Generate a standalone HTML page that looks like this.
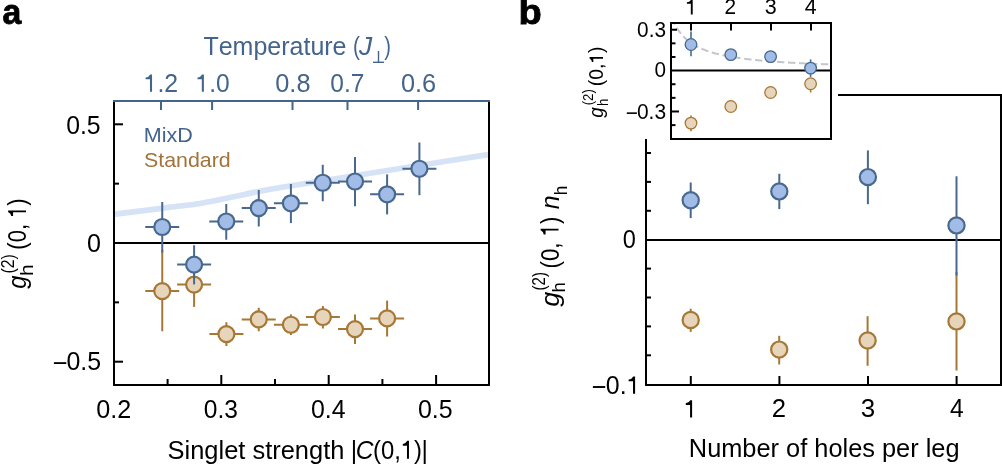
<!DOCTYPE html>
<html><head><meta charset="utf-8"><style>
html,body{margin:0;padding:0;background:#fff;}
body{width:1002px;height:464px;overflow:hidden;position:relative;font-family:"Liberation Sans", sans-serif;}
</style></head><body>
<svg width="1002" height="464" viewBox="0 0 1002 464" style="position:absolute;left:0;top:0;will-change:transform;font-kerning:none">
<g font-family='"Liberation Sans", sans-serif'>
<text x="2.51" y="24.1" font-size="34.5" fill="#000" textLength="18.77" lengthAdjust="spacingAndGlyphs" font-weight="bold" stroke="#000" stroke-width="0.8">a</text>
<path d="M113,214.35 C118.17,213.72 134.50,211.79 144,210.6 C153.50,209.41 160.67,208.38 170,207.2 C179.33,206.02 190.00,205.12 200,203.5 C210.00,201.88 220.00,199.55 230,197.5 C240.00,195.45 250.00,193.12 260,191.2 C270.00,189.28 261.67,190.57 290,186 C318.33,181.43 397.00,169.03 430,163.8 C463.00,158.57 478.33,156.13 488,154.6" fill="none" stroke="#d6e2f6" stroke-width="5.7"/>
<line x1="114.00" y1="243.00" x2="489.00" y2="243.00" stroke="#000" stroke-width="2" />
<line x1="114.00" y1="101.00" x2="114.00" y2="386.00" stroke="#000" stroke-width="2" />
<line x1="489.00" y1="101.00" x2="489.00" y2="386.00" stroke="#000" stroke-width="2" />
<line x1="113.00" y1="385.00" x2="490.00" y2="385.00" stroke="#000" stroke-width="2" />
<line x1="113.00" y1="101.00" x2="490.00" y2="101.00" stroke="#43648b" stroke-width="2" />
<line x1="114.00" y1="124.30" x2="123.00" y2="124.30" stroke="#000" stroke-width="2" />
<line x1="114.00" y1="183.65" x2="119.00" y2="183.65" stroke="#000" stroke-width="2" />
<line x1="114.00" y1="302.35" x2="119.00" y2="302.35" stroke="#000" stroke-width="2" />
<line x1="114.00" y1="361.70" x2="123.00" y2="361.70" stroke="#000" stroke-width="2" />
<line x1="167.60" y1="385.00" x2="167.60" y2="379.00" stroke="#000" stroke-width="2" />
<line x1="221.30" y1="385.00" x2="221.30" y2="375.00" stroke="#000" stroke-width="2" />
<line x1="275.00" y1="385.00" x2="275.00" y2="379.00" stroke="#000" stroke-width="2" />
<line x1="328.70" y1="385.00" x2="328.70" y2="375.00" stroke="#000" stroke-width="2" />
<line x1="382.40" y1="385.00" x2="382.40" y2="379.00" stroke="#000" stroke-width="2" />
<line x1="436.10" y1="385.00" x2="436.10" y2="375.00" stroke="#000" stroke-width="2" />
<line x1="161.00" y1="101.00" x2="161.00" y2="110.00" stroke="#43648b" stroke-width="2" />
<line x1="212.10" y1="101.00" x2="212.10" y2="110.00" stroke="#43648b" stroke-width="2" />
<line x1="292.50" y1="101.00" x2="292.50" y2="110.00" stroke="#43648b" stroke-width="2" />
<line x1="347.50" y1="101.00" x2="347.50" y2="110.00" stroke="#43648b" stroke-width="2" />
<line x1="418.10" y1="101.00" x2="418.10" y2="110.00" stroke="#43648b" stroke-width="2" />
<text x="66.13" y="133.5" font-size="25" fill="#000" textLength="34.51" lengthAdjust="spacingAndGlyphs" >0.5</text>
<text x="87.02" y="251.5" font-size="25" fill="#000" textLength="13.96" lengthAdjust="spacingAndGlyphs" >0</text>
<line x1="53.90" y1="363.10" x2="66.30" y2="363.10" stroke="#000" stroke-width="1.85" />
<text x="66.53" y="369.8" font-size="25" fill="#000" textLength="34.62" lengthAdjust="spacingAndGlyphs" >0.5</text>
<text x="96.22" y="417.5" font-size="25" fill="#000" textLength="35.05" lengthAdjust="spacingAndGlyphs" >0.2</text>
<text x="203.84" y="417.5" font-size="25" fill="#000" textLength="34.14" lengthAdjust="spacingAndGlyphs" >0.3</text>
<text x="310.93" y="417.5" font-size="25" fill="#000" textLength="34.60" lengthAdjust="spacingAndGlyphs" >0.4</text>
<text x="417.92" y="417.5" font-size="25" fill="#000" textLength="34.72" lengthAdjust="spacingAndGlyphs" >0.5</text>
<path d="M696,1409 L696,0 L525,0 L525,1018 L165,1018 L165,1162 Q420,1170 545,1409 Z" fill="#43648b" transform="translate(143.597,91.7) scale(0.012136,-0.012207)"/>
<text x="143.60" y="91.7" font-size="25" fill="#43648b" textLength="34.55" lengthAdjust="spacingAndGlyphs" > .2</text>
<path d="M696,1409 L696,0 L525,0 L525,1018 L165,1018 L165,1162 Q420,1170 545,1409 Z" fill="#43648b" transform="translate(195.518,91.7) scale(0.012010,-0.012207)"/>
<text x="195.52" y="91.7" font-size="25" fill="#43648b" textLength="34.19" lengthAdjust="spacingAndGlyphs" > .0</text>
<text x="275.26" y="91.7" font-size="25" fill="#43648b" textLength="35.24" lengthAdjust="spacingAndGlyphs" >0.8</text>
<text x="330.29" y="91.7" font-size="25" fill="#43648b" textLength="34.04" lengthAdjust="spacingAndGlyphs" >0.7</text>
<text x="400.91" y="91.7" font-size="25" fill="#43648b" textLength="35.20" lengthAdjust="spacingAndGlyphs" >0.6</text>
<text x="203.44" y="54.8" font-size="26" fill="#43648b" textLength="143.07" lengthAdjust="spacingAndGlyphs" >Temperature</text>
<text x="353.11" y="54.8" font-size="26" fill="#43648b" textLength="6.91" lengthAdjust="spacingAndGlyphs" >(</text>
<text x="358.96" y="54.8" font-size="26" fill="#43648b" textLength="13.23" lengthAdjust="spacingAndGlyphs" font-style="italic" >J</text>
<line x1="378.50" y1="51.00" x2="378.50" y2="62.30" stroke="#43648b" stroke-width="1.4" />
<line x1="373.00" y1="62.30" x2="384.00" y2="62.30" stroke="#43648b" stroke-width="1.4" />
<text x="384.18" y="54.8" font-size="26" fill="#43648b" textLength="6.66" lengthAdjust="spacingAndGlyphs" >)</text>
<text x="143.83" y="141.9" font-size="21" fill="#43648b" textLength="49.10" lengthAdjust="spacingAndGlyphs" >MixD</text>
<text x="144.03" y="166.7" font-size="21" fill="#a2733a" textLength="86.75" lengthAdjust="spacingAndGlyphs" >Standard</text>
<text x="167.54" y="458.7" font-size="26" fill="#000" textLength="176.86" lengthAdjust="spacingAndGlyphs" >Singlet strength</text>
<text x="350.80" y="458.7" font-size="26" fill="#000" textLength="6.41" lengthAdjust="spacingAndGlyphs" >|</text>
<text x="355.65" y="458.7" font-size="26" fill="#000" textLength="17.72" lengthAdjust="spacingAndGlyphs" font-style="italic" >C</text>
<path d="M696,1409 L696,0 L525,0 L525,1018 L165,1018 L165,1162 Q420,1170 545,1409 Z" fill="#000" transform="translate(400.864,458.7) scale(0.011650,-0.012695)"/>
<text x="373.02" y="458.7" font-size="26" fill="#000" textLength="49.06" lengthAdjust="spacingAndGlyphs" >(0, )</text>
<text x="421.60" y="458.7" font-size="26" fill="#000" textLength="6.41" lengthAdjust="spacingAndGlyphs" >|</text>
<g transform="translate(26,289) rotate(-90)">
<text x="0.35" y="0" font-size="26" fill="#000" textLength="13.26" lengthAdjust="spacingAndGlyphs" font-style="italic" >g</text>
<text x="15.42" y="-12.4" font-size="17.5" fill="#000" textLength="19.37" lengthAdjust="spacingAndGlyphs" >(2)</text>
<text x="13.14" y="6.6" font-size="17.5" fill="#000" textLength="11.73" lengthAdjust="spacingAndGlyphs" >h</text>
<path d="M696,1409 L696,0 L525,0 L525,1018 L165,1018 L165,1162 Q420,1170 545,1409 Z" fill="#000" transform="translate(71.110,0) scale(0.010738,-0.012695)"/>
<text x="39.34" y="0" font-size="26" fill="#000" textLength="51.33" lengthAdjust="spacingAndGlyphs" >(0,  )</text>
</g>
<line x1="162.25" y1="250.00" x2="162.25" y2="291.10" stroke="#a77735" stroke-width="2" />
<line x1="162.25" y1="291.10" x2="162.25" y2="331.25" stroke="#a77735" stroke-width="2" />
<line x1="145.25" y1="291.10" x2="179.25" y2="291.10" stroke="#a77735" stroke-width="2" />
<circle cx="162.25" cy="291.1" r="8.0" fill="#e7d5bb" stroke="#a77735" stroke-width="2.2"/>
<line x1="194.10" y1="266.00" x2="194.10" y2="284.60" stroke="#a77735" stroke-width="2" />
<line x1="194.10" y1="284.60" x2="194.10" y2="306.90" stroke="#a77735" stroke-width="2" />
<line x1="177.10" y1="284.60" x2="211.10" y2="284.60" stroke="#a77735" stroke-width="2" />
<circle cx="194.1" cy="284.6" r="8.0" fill="#e7d5bb" stroke="#a77735" stroke-width="2.2"/>
<line x1="226.40" y1="322.25" x2="226.40" y2="334.10" stroke="#a77735" stroke-width="2" />
<line x1="226.40" y1="334.10" x2="226.40" y2="346.00" stroke="#a77735" stroke-width="2" />
<line x1="209.40" y1="334.10" x2="243.40" y2="334.10" stroke="#a77735" stroke-width="2" />
<circle cx="226.4" cy="334.1" r="8.0" fill="#e7d5bb" stroke="#a77735" stroke-width="2.2"/>
<line x1="258.75" y1="307.75" x2="258.75" y2="319.40" stroke="#a77735" stroke-width="2" />
<line x1="258.75" y1="319.40" x2="258.75" y2="331.25" stroke="#a77735" stroke-width="2" />
<line x1="241.75" y1="319.40" x2="275.75" y2="319.40" stroke="#a77735" stroke-width="2" />
<circle cx="258.75" cy="319.4" r="8.0" fill="#e7d5bb" stroke="#a77735" stroke-width="2.2"/>
<line x1="290.90" y1="314.40" x2="290.90" y2="324.75" stroke="#a77735" stroke-width="2" />
<line x1="290.90" y1="324.75" x2="290.90" y2="335.00" stroke="#a77735" stroke-width="2" />
<line x1="273.90" y1="324.75" x2="307.90" y2="324.75" stroke="#a77735" stroke-width="2" />
<circle cx="290.9" cy="324.75" r="8.0" fill="#e7d5bb" stroke="#a77735" stroke-width="2.2"/>
<line x1="322.90" y1="306.00" x2="322.90" y2="317.00" stroke="#a77735" stroke-width="2" />
<line x1="322.90" y1="317.00" x2="322.90" y2="328.50" stroke="#a77735" stroke-width="2" />
<line x1="305.90" y1="317.00" x2="339.90" y2="317.00" stroke="#a77735" stroke-width="2" />
<circle cx="322.9" cy="317" r="8.0" fill="#e7d5bb" stroke="#a77735" stroke-width="2.2"/>
<line x1="355.00" y1="314.40" x2="355.00" y2="329.10" stroke="#a77735" stroke-width="2" />
<line x1="355.00" y1="329.10" x2="355.00" y2="344.00" stroke="#a77735" stroke-width="2" />
<line x1="338.00" y1="329.10" x2="372.00" y2="329.10" stroke="#a77735" stroke-width="2" />
<circle cx="355" cy="329.1" r="8.0" fill="#e7d5bb" stroke="#a77735" stroke-width="2.2"/>
<line x1="387.10" y1="300.60" x2="387.10" y2="318.40" stroke="#a77735" stroke-width="2" />
<line x1="387.10" y1="318.40" x2="387.10" y2="336.50" stroke="#a77735" stroke-width="2" />
<line x1="370.10" y1="318.40" x2="404.10" y2="318.40" stroke="#a77735" stroke-width="2" />
<circle cx="387.1" cy="318.4" r="8.0" fill="#e7d5bb" stroke="#a77735" stroke-width="2.2"/>
<line x1="162.25" y1="202.00" x2="162.25" y2="227.00" stroke="#48698d" stroke-width="2" />
<line x1="162.25" y1="227.00" x2="162.25" y2="252.50" stroke="#48698d" stroke-width="2" />
<line x1="145.25" y1="227.00" x2="179.25" y2="227.00" stroke="#48698d" stroke-width="2" />
<circle cx="162.25" cy="227" r="8.0" fill="#a1bce7" stroke="#48698d" stroke-width="2.2"/>
<line x1="194.10" y1="245.25" x2="194.10" y2="264.60" stroke="#48698d" stroke-width="2" />
<line x1="194.10" y1="264.60" x2="194.10" y2="284.40" stroke="#48698d" stroke-width="2" />
<line x1="177.10" y1="264.60" x2="211.10" y2="264.60" stroke="#48698d" stroke-width="2" />
<circle cx="194.1" cy="264.6" r="8.0" fill="#a1bce7" stroke="#48698d" stroke-width="2.2"/>
<line x1="226.25" y1="204.00" x2="226.25" y2="221.50" stroke="#48698d" stroke-width="2" />
<line x1="226.25" y1="221.50" x2="226.25" y2="239.75" stroke="#48698d" stroke-width="2" />
<line x1="209.25" y1="221.50" x2="243.25" y2="221.50" stroke="#48698d" stroke-width="2" />
<circle cx="226.25" cy="221.5" r="8.0" fill="#a1bce7" stroke="#48698d" stroke-width="2.2"/>
<line x1="258.75" y1="190.00" x2="258.75" y2="208.10" stroke="#48698d" stroke-width="2" />
<line x1="258.75" y1="208.10" x2="258.75" y2="226.50" stroke="#48698d" stroke-width="2" />
<line x1="241.75" y1="208.10" x2="275.75" y2="208.10" stroke="#48698d" stroke-width="2" />
<circle cx="258.75" cy="208.1" r="8.0" fill="#a1bce7" stroke="#48698d" stroke-width="2.2"/>
<line x1="290.90" y1="184.00" x2="290.90" y2="203.30" stroke="#48698d" stroke-width="2" />
<line x1="290.90" y1="203.30" x2="290.90" y2="223.10" stroke="#48698d" stroke-width="2" />
<line x1="273.90" y1="203.30" x2="307.90" y2="203.30" stroke="#48698d" stroke-width="2" />
<circle cx="290.9" cy="203.3" r="8.0" fill="#a1bce7" stroke="#48698d" stroke-width="2.2"/>
<line x1="322.75" y1="164.75" x2="322.75" y2="182.75" stroke="#48698d" stroke-width="2" />
<line x1="322.75" y1="182.75" x2="322.75" y2="201.25" stroke="#48698d" stroke-width="2" />
<line x1="305.75" y1="182.75" x2="339.75" y2="182.75" stroke="#48698d" stroke-width="2" />
<circle cx="322.75" cy="182.75" r="8.0" fill="#a1bce7" stroke="#48698d" stroke-width="2.2"/>
<line x1="355.00" y1="156.90" x2="355.00" y2="181.50" stroke="#48698d" stroke-width="2" />
<line x1="355.00" y1="181.50" x2="355.00" y2="206.25" stroke="#48698d" stroke-width="2" />
<line x1="338.00" y1="181.50" x2="372.00" y2="181.50" stroke="#48698d" stroke-width="2" />
<circle cx="355" cy="181.5" r="8.0" fill="#a1bce7" stroke="#48698d" stroke-width="2.2"/>
<line x1="387.10" y1="174.40" x2="387.10" y2="194.30" stroke="#48698d" stroke-width="2" />
<line x1="387.10" y1="194.30" x2="387.10" y2="214.40" stroke="#48698d" stroke-width="2" />
<line x1="370.10" y1="194.30" x2="404.10" y2="194.30" stroke="#48698d" stroke-width="2" />
<circle cx="387.1" cy="194.3" r="8.0" fill="#a1bce7" stroke="#48698d" stroke-width="2.2"/>
<line x1="419.40" y1="142.50" x2="419.40" y2="168.75" stroke="#48698d" stroke-width="2" />
<line x1="419.40" y1="168.75" x2="419.40" y2="195.20" stroke="#48698d" stroke-width="2" />
<line x1="402.40" y1="168.75" x2="436.40" y2="168.75" stroke="#48698d" stroke-width="2" />
<circle cx="419.4" cy="168.75" r="8.0" fill="#a1bce7" stroke="#48698d" stroke-width="2.2"/>
<text x="518.49" y="24.1" font-size="34.5" fill="#000" textLength="23.27" lengthAdjust="spacingAndGlyphs" font-weight="bold" stroke="#000" stroke-width="0.8">b</text>
<line x1="646.00" y1="240.00" x2="1001.00" y2="240.00" stroke="#000" stroke-width="2" />
<line x1="646.00" y1="139.00" x2="646.00" y2="386.00" stroke="#000" stroke-width="2" />
<line x1="838.00" y1="95.00" x2="1002.00" y2="95.00" stroke="#000" stroke-width="2" />
<line x1="1001.00" y1="94.00" x2="1001.00" y2="386.00" stroke="#000" stroke-width="2" />
<line x1="645.00" y1="385.00" x2="1002.00" y2="385.00" stroke="#000" stroke-width="2" />
<line x1="646.00" y1="153.00" x2="651.00" y2="153.00" stroke="#000" stroke-width="2" />
<line x1="646.00" y1="181.90" x2="651.00" y2="181.90" stroke="#000" stroke-width="2" />
<line x1="646.00" y1="210.80" x2="651.00" y2="210.80" stroke="#000" stroke-width="2" />
<line x1="646.00" y1="268.60" x2="651.00" y2="268.60" stroke="#000" stroke-width="2" />
<line x1="646.00" y1="297.50" x2="651.00" y2="297.50" stroke="#000" stroke-width="2" />
<line x1="646.00" y1="326.40" x2="651.00" y2="326.40" stroke="#000" stroke-width="2" />
<line x1="646.00" y1="355.30" x2="651.00" y2="355.30" stroke="#000" stroke-width="2" />
<line x1="690.80" y1="385.00" x2="690.80" y2="376.00" stroke="#000" stroke-width="2" />
<line x1="779.40" y1="385.00" x2="779.40" y2="376.00" stroke="#000" stroke-width="2" />
<line x1="868.00" y1="385.00" x2="868.00" y2="376.00" stroke="#000" stroke-width="2" />
<line x1="956.60" y1="385.00" x2="956.60" y2="376.00" stroke="#000" stroke-width="2" />
<text x="622.83" y="248.0" font-size="25" fill="#000" textLength="13.09" lengthAdjust="spacingAndGlyphs" >0</text>
<line x1="592.90" y1="387.00" x2="605.20" y2="387.00" stroke="#000" stroke-width="1.9" />
<path d="M696,1409 L696,0 L525,0 L525,1018 L165,1018 L165,1162 Q420,1170 545,1409 Z" fill="#000" transform="translate(626.625,393.7) scale(0.012177,-0.012207)"/>
<text x="605.83" y="393.7" font-size="25" fill="#000" textLength="34.67" lengthAdjust="spacingAndGlyphs" >0. </text>
<path d="M696,1409 L696,0 L525,0 L525,1018 L165,1018 L165,1162 Q420,1170 545,1409 Z" fill="#000" transform="translate(683.842,417.4) scale(0.011864,-0.012207)"/>
<text x="683.84" y="417.4" font-size="25" fill="#000" textLength="13.51" lengthAdjust="spacingAndGlyphs" > </text>
<text x="771.81" y="417.4" font-size="25" fill="#000" textLength="14.28" lengthAdjust="spacingAndGlyphs" >2</text>
<text x="860.71" y="417.4" font-size="25" fill="#000" textLength="14.43" lengthAdjust="spacingAndGlyphs" >3</text>
<text x="949.94" y="417.4" font-size="25" fill="#000" textLength="13.69" lengthAdjust="spacingAndGlyphs" >4</text>
<text x="688.82" y="456.8" font-size="26" fill="#000" textLength="270.72" lengthAdjust="spacingAndGlyphs" >Number of holes per leg</text>
<g transform="translate(558.5,306.7) rotate(-90)">
<text x="-0.05" y="0" font-size="26" fill="#000" textLength="14.99" lengthAdjust="spacingAndGlyphs" font-style="italic" >g</text>
<text x="16.27" y="-13.1" font-size="17.5" fill="#000" textLength="18.36" lengthAdjust="spacingAndGlyphs" >(2)</text>
<text x="14.22" y="6" font-size="17.5" fill="#000" textLength="10.28" lengthAdjust="spacingAndGlyphs" >h</text>
<path d="M696,1409 L696,0 L525,0 L525,1018 L165,1018 L165,1162 Q420,1170 545,1409 Z" fill="#000" transform="translate(70.423,0) scale(0.010848,-0.012695)"/>
<text x="38.32" y="0" font-size="26" fill="#000" textLength="51.86" lengthAdjust="spacingAndGlyphs" >(0,  )</text>
<text x="97.49" y="0" font-size="26" fill="#000" textLength="13.84" lengthAdjust="spacingAndGlyphs" font-style="italic" >n</text>
<text x="111.52" y="8.5" font-size="17.5" fill="#000" textLength="9.49" lengthAdjust="spacingAndGlyphs" >h</text>
</g>
<line x1="690.70" y1="308.75" x2="690.70" y2="320.00" stroke="#a77735" stroke-width="2" />
<line x1="690.70" y1="320.00" x2="690.70" y2="331.90" stroke="#a77735" stroke-width="2" />
<circle cx="690.7" cy="320" r="8.1" fill="#e7d5bb" stroke="#a77735" stroke-width="2.2"/>
<line x1="779.20" y1="335.80" x2="779.20" y2="349.60" stroke="#a77735" stroke-width="2" />
<line x1="779.20" y1="349.60" x2="779.20" y2="364.50" stroke="#a77735" stroke-width="2" />
<circle cx="779.2" cy="349.6" r="8.1" fill="#e7d5bb" stroke="#a77735" stroke-width="2.2"/>
<line x1="867.60" y1="316.20" x2="867.60" y2="340.50" stroke="#a77735" stroke-width="2" />
<line x1="867.60" y1="340.50" x2="867.60" y2="365.80" stroke="#a77735" stroke-width="2" />
<circle cx="867.6" cy="340.5" r="8.1" fill="#e7d5bb" stroke="#a77735" stroke-width="2.2"/>
<line x1="956.50" y1="272.00" x2="956.50" y2="321.40" stroke="#a77735" stroke-width="2" />
<line x1="956.50" y1="321.40" x2="956.50" y2="370.50" stroke="#a77735" stroke-width="2" />
<circle cx="956.5" cy="321.4" r="8.1" fill="#e7d5bb" stroke="#a77735" stroke-width="2.2"/>
<line x1="690.70" y1="182.50" x2="690.70" y2="200.25" stroke="#48698d" stroke-width="2" />
<line x1="690.70" y1="200.25" x2="690.70" y2="218.10" stroke="#48698d" stroke-width="2" />
<circle cx="690.7" cy="200.25" r="8.1" fill="#a1bce7" stroke="#48698d" stroke-width="2.2"/>
<line x1="779.30" y1="173.80" x2="779.30" y2="191.40" stroke="#48698d" stroke-width="2" />
<line x1="779.30" y1="191.40" x2="779.30" y2="209.10" stroke="#48698d" stroke-width="2" />
<circle cx="779.3" cy="191.4" r="8.1" fill="#a1bce7" stroke="#48698d" stroke-width="2.2"/>
<line x1="867.90" y1="150.40" x2="867.90" y2="177.10" stroke="#48698d" stroke-width="2" />
<line x1="867.90" y1="177.10" x2="867.90" y2="204.20" stroke="#48698d" stroke-width="2" />
<circle cx="867.9" cy="177.1" r="8.1" fill="#a1bce7" stroke="#48698d" stroke-width="2.2"/>
<line x1="956.50" y1="176.30" x2="956.50" y2="225.40" stroke="#48698d" stroke-width="2" />
<line x1="956.50" y1="225.40" x2="956.50" y2="275.50" stroke="#48698d" stroke-width="2" />
<circle cx="956.5" cy="225.4" r="8.1" fill="#a1bce7" stroke="#48698d" stroke-width="2.2"/>
<rect x="663" y="20" width="175" height="120" fill="#fff"/>
<path d="M674.60,23.70 L675.40,25.24 L676.20,26.68 L677.00,28.03 L677.80,29.30 L678.60,30.50 L679.40,31.63 L680.20,32.70 L681.00,33.71 L681.80,34.67 L682.60,35.58 L683.40,36.44 L684.20,37.26 L685.00,38.05 L685.80,38.80 L686.60,39.51 L687.40,40.19 L688.20,40.85 L689.00,41.47 L689.80,42.08 L690.60,42.65 L691.40,43.21 L692.20,43.74 L693.00,44.25 L693.80,44.74 L694.60,45.22 L695.40,45.67 L696.20,46.11 L697.00,46.54 L697.80,46.95 L698.60,47.35 L699.40,47.73 L700.20,48.10 L701.00,48.46 L701.80,48.81 L702.60,49.15 L703.40,49.48 L704.20,49.80 L705.00,50.10 L705.80,50.40 L706.60,50.69 L707.40,50.98 L708.20,51.25 L709.00,51.52 L709.80,51.78 L710.60,52.03 L711.40,52.28 L712.20,52.52 L713.00,52.75 L713.80,52.98 L714.60,53.20 L715.40,53.41 L716.20,53.63 L717.00,53.83 L717.80,54.03 L718.60,54.23 L719.40,54.42 L720.20,54.61 L721.00,54.79 L721.80,54.97 L722.60,55.14 L723.40,55.31 L724.20,55.48 L725.00,55.64 L725.80,55.80 L726.60,55.96 L727.40,56.11 L728.20,56.26 L729.00,56.41 L729.80,56.55 L730.60,56.70 L731.40,56.83 L732.20,56.97 L733.00,57.10 L733.80,57.23 L734.60,57.36 L735.40,57.49 L736.20,57.61 L737.00,57.73 L737.80,57.85 L738.60,57.97 L739.40,58.08 L740.20,58.19 L741.00,58.30 L741.80,58.41 L742.60,58.52 L743.40,58.62 L744.20,58.72 L745.00,58.83 L745.80,58.93 L746.60,59.02 L747.40,59.12 L748.20,59.21 L749.00,59.31 L749.80,59.40 L750.60,59.49 L751.40,59.58 L752.20,59.66 L753.00,59.75 L753.80,59.83 L754.60,59.92 L755.40,60.00 L756.20,60.08 L757.00,60.16 L757.80,60.24 L758.60,60.31 L759.40,60.39 L760.20,60.46 L761.00,60.54 L761.80,60.61 L762.60,60.68 L763.40,60.75 L764.20,60.82 L765.00,60.89 L765.80,60.96 L766.60,61.03 L767.40,61.09 L768.20,61.16 L769.00,61.22 L769.80,61.28 L770.60,61.35 L771.40,61.41 L772.20,61.47 L773.00,61.53 L773.80,61.59 L774.60,61.65 L775.40,61.70 L776.20,61.76 L777.00,61.82 L777.80,61.87 L778.60,61.93 L779.40,61.98 L780.20,62.03 L781.00,62.09 L781.80,62.14 L782.60,62.19 L783.40,62.24 L784.20,62.29 L785.00,62.34 L785.80,62.39 L786.60,62.44 L787.40,62.49 L788.20,62.53 L789.00,62.58 L789.80,62.63 L790.60,62.67 L791.40,62.72 L792.20,62.76 L793.00,62.81 L793.80,62.85 L794.60,62.89 L795.40,62.94 L796.20,62.98 L797.00,63.02 L797.80,63.06 L798.60,63.10 L799.40,63.14 L800.20,63.18 L801.00,63.22 L801.80,63.26 L802.60,63.30 L803.40,63.34 L804.20,63.38 L805.00,63.41 L805.80,63.45 L806.60,63.49 L807.40,63.52 L808.20,63.56 L809.00,63.60 L809.80,63.63 L810.60,63.67 L811.40,63.70 L812.20,63.73 L813.00,63.77 L813.80,63.80 L814.60,63.83 L815.40,63.87 L816.20,63.90 L817.00,63.93 L817.80,63.96 L818.60,64.00 L819.40,64.03 L820.20,64.06 L821.00,64.09 L821.80,64.12 L822.60,64.15 L823.40,64.18 L824.20,64.21 L825.00,64.24 L825.80,64.27 L826.60,64.30 L827.40,64.33 L828.20,64.35 L829.00,64.38 L829.80,64.41" fill="none" stroke="#c3c6cb" stroke-width="2" stroke-dasharray="7.4 3.6" stroke-dashoffset="6.5"/>
<line x1="671.00" y1="70.60" x2="831.00" y2="70.60" stroke="#000" stroke-width="2" />
<line x1="671.00" y1="22.00" x2="671.00" y2="140.00" stroke="#000" stroke-width="2" />
<line x1="831.00" y1="22.00" x2="831.00" y2="140.00" stroke="#000" stroke-width="2" />
<line x1="670.00" y1="23.00" x2="832.00" y2="23.00" stroke="#000" stroke-width="2" />
<line x1="670.00" y1="139.00" x2="832.00" y2="139.00" stroke="#000" stroke-width="2" />
<line x1="671.00" y1="29.71" x2="677.00" y2="29.71" stroke="#000" stroke-width="2" />
<line x1="671.00" y1="43.34" x2="675.50" y2="43.34" stroke="#000" stroke-width="2" />
<line x1="671.00" y1="56.97" x2="675.50" y2="56.97" stroke="#000" stroke-width="2" />
<line x1="671.00" y1="84.23" x2="675.50" y2="84.23" stroke="#000" stroke-width="2" />
<line x1="671.00" y1="97.86" x2="675.50" y2="97.86" stroke="#000" stroke-width="2" />
<line x1="671.00" y1="111.49" x2="679.00" y2="111.49" stroke="#000" stroke-width="2" />
<line x1="671.00" y1="125.12" x2="675.50" y2="125.12" stroke="#000" stroke-width="2" />
<line x1="691.00" y1="23.00" x2="691.00" y2="30.50" stroke="#000" stroke-width="2" />
<line x1="731.00" y1="23.00" x2="731.00" y2="30.50" stroke="#000" stroke-width="2" />
<line x1="771.00" y1="23.00" x2="771.00" y2="30.50" stroke="#000" stroke-width="2" />
<line x1="811.00" y1="23.00" x2="811.00" y2="30.50" stroke="#000" stroke-width="2" />
<path d="M696,1409 L696,0 L525,0 L525,1018 L165,1018 L165,1162 Q420,1170 545,1409 Z" fill="#000" transform="translate(685.098,14.4) scale(0.010923,-0.010352)"/>
<text x="685.10" y="14.4" font-size="21.2" fill="#000" textLength="12.44" lengthAdjust="spacingAndGlyphs" > </text>
<text x="724.55" y="14.4" font-size="21.2" fill="#000" textLength="11.60" lengthAdjust="spacingAndGlyphs" >2</text>
<text x="764.88" y="14.4" font-size="21.2" fill="#000" textLength="11.96" lengthAdjust="spacingAndGlyphs" >3</text>
<text x="804.71" y="14.4" font-size="21.2" fill="#000" textLength="11.92" lengthAdjust="spacingAndGlyphs" >4</text>
<text x="637.09" y="36.8" font-size="21.2" fill="#000" textLength="28.93" lengthAdjust="spacingAndGlyphs" >0.3</text>
<text x="654.59" y="77.2" font-size="21.2" fill="#000" textLength="11.52" lengthAdjust="spacingAndGlyphs" >0</text>
<line x1="626.80" y1="113.15" x2="636.90" y2="113.15" stroke="#000" stroke-width="1.6" />
<text x="636.98" y="118.7" font-size="21.2" fill="#000" textLength="29.14" lengthAdjust="spacingAndGlyphs" >0.3</text>
<g transform="translate(603,118) rotate(-90)">
<text x="0.16" y="0" font-size="19.5" fill="#000" textLength="10.50" lengthAdjust="spacingAndGlyphs" font-style="italic" >g</text>
<text x="12.68" y="-9.7" font-size="14" fill="#000" textLength="16.14" lengthAdjust="spacingAndGlyphs" >(2)</text>
<text x="12.08" y="5.2" font-size="14" fill="#000" textLength="7.38" lengthAdjust="spacingAndGlyphs" >h</text>
<path d="M696,1409 L696,0 L525,0 L525,1018 L165,1018 L165,1162 Q420,1170 545,1409 Z" fill="#000" transform="translate(54.332,0) scale(0.009426,-0.009521)"/>
<text x="31.80" y="0" font-size="19.5" fill="#000" textLength="39.69" lengthAdjust="spacingAndGlyphs" >(0, )</text>
</g>
<line x1="691.00" y1="115.60" x2="691.00" y2="123.10" stroke="#a77735" stroke-width="1.6" />
<line x1="691.00" y1="123.10" x2="691.00" y2="131.25" stroke="#a77735" stroke-width="1.6" />
<circle cx="691" cy="123.1" r="5.8" fill="#e7d5bb" stroke="#a77735" stroke-width="1.3"/>
<circle cx="730.8" cy="106.5" r="5.8" fill="#e7d5bb" stroke="#a77735" stroke-width="1.3"/>
<circle cx="770.6" cy="92.5" r="5.8" fill="#e7d5bb" stroke="#a77735" stroke-width="1.3"/>
<line x1="810.60" y1="78.00" x2="810.60" y2="83.75" stroke="#a77735" stroke-width="1.6" />
<line x1="810.60" y1="83.75" x2="810.60" y2="92.50" stroke="#a77735" stroke-width="1.6" />
<circle cx="810.6" cy="83.75" r="5.8" fill="#e7d5bb" stroke="#a77735" stroke-width="1.3"/>
<line x1="691.00" y1="31.60" x2="691.00" y2="44.50" stroke="#48698d" stroke-width="1.6" />
<line x1="691.00" y1="44.50" x2="691.00" y2="56.25" stroke="#48698d" stroke-width="1.6" />
<circle cx="691" cy="44.5" r="5.8" fill="#a1bce7" stroke="#48698d" stroke-width="1.3"/>
<circle cx="730.8" cy="54.6" r="5.8" fill="#a1bce7" stroke="#48698d" stroke-width="1.3"/>
<circle cx="770.6" cy="56.6" r="5.8" fill="#a1bce7" stroke="#48698d" stroke-width="1.3"/>
<line x1="810.60" y1="59.40" x2="810.60" y2="68.10" stroke="#48698d" stroke-width="1.6" />
<line x1="810.60" y1="68.10" x2="810.60" y2="76.90" stroke="#48698d" stroke-width="1.6" />
<circle cx="810.6" cy="68.1" r="5.8" fill="#a1bce7" stroke="#48698d" stroke-width="1.3"/>
</g></svg>
</body></html>
